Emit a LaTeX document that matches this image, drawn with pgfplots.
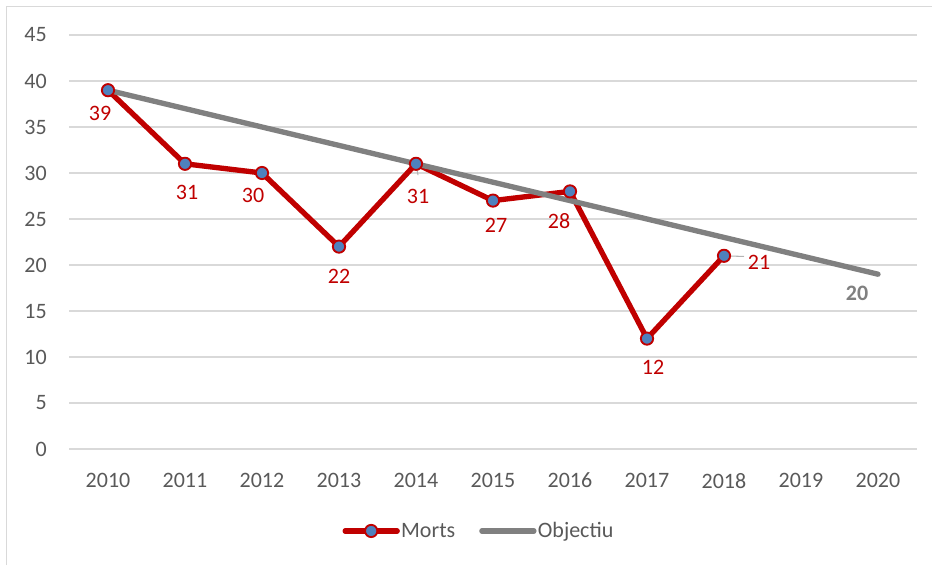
\documentclass[border=0pt]{standalone}
\usepackage{pgfplots}
\pgfplotsset{compat=1.18}
\usepackage{fontspec}
\setmainfont{Carlito}
\definecolor{mred}{HTML}{C00000}
\definecolor{mblue}{HTML}{4F81BD}
\definecolor{mgray}{HTML}{808080}
\definecolor{tgray}{HTML}{595959}
\definecolor{ggray}{HTML}{D9D9D9}
\newcommand{\fs}{\fontsize{16.5}{19}\selectfont}
\begin{document}
\begin{tikzpicture}
\useasboundingbox (0pt,0pt) rectangle (699pt,423.75pt);
\draw[ggray,line width=1pt] (4.9pt,0pt) -- (4.9pt,419pt) -- (699pt,419pt);
\begin{axis}[
  at={(52.125pt,87pt)}, anchor=south west,
  scale only axis, width=635.25pt, height=310.5pt,
  xmin=2009.5, xmax=2020.5, ymin=0, ymax=45,
  xtick={2010,...,2020}, ytick={0,5,...,45},
  xticklabel style={/pgf/number format/1000 sep={}},
  /pgf/number format/assume math mode=true,
  ymajorgrids, grid style={ggray,line width=1pt},
  axis line style={draw=none}, tick style={draw=none},
  tick label style={font=\fs, text=tgray},
  yticklabel style={xshift=-13.5pt},
  xticklabel style={yshift=-14.5pt},
  clip=false,
  legend style={at={(0.483,-0.198)}, anchor=center, draw=none, legend columns=2,
    font=\fs, text=tgray, nodes={inner sep=1pt},
    /tikz/every even column/.append style={column sep=17pt}},
  legend cell align=left,
]
\addplot[mred, line width=4pt, line join=round, mark=*, mark size=4.6pt,
  mark options={fill=mblue, draw=mred, line width=1.4pt},
  legend image code/.code={\draw[mred,line width=4pt,line cap=round] (0pt,0pt) -- (39pt,0pt);
    \draw[mred,fill=mblue,line width=1.4pt] (19.5pt,0pt) circle (4.6pt);}]
  coordinates {(2010,39) (2011,31) (2012,30) (2013,22) (2014,31) (2015,27) (2016,28) (2017,12) (2018,21)};
\addlegendentry{Morts}
\addplot[mgray, line width=4pt, line cap=round,
  legend image code/.code={\draw[mgray,line width=4pt,line cap=round] (0pt,0pt) -- (39pt,0pt);}]
  coordinates {(2010,39) (2020,19)};
\addlegendentry{Objectiu}
% leader lines
\draw[mgray!60, line width=0.8pt] (axis cs:2014,31) -- ++(1.5pt,-8.5pt);
\draw[mgray!60, line width=0.8pt] (axis cs:2018,21) -- ++(15pt,-0.5pt);
% data labels
\begin{scope}[every node/.style={font=\fs, text=mred, inner sep=0pt}]
\node at (axis cs:2010,39) [xshift=-6pt, yshift=-17.25pt] {39};
\node at (axis cs:2011,31) [xshift=1.5pt, yshift=-21.75pt] {31};
\node at (axis cs:2012,30) [xshift=-6.75pt, yshift=-16.5pt] {30};
\node at (axis cs:2013,22) [yshift=-22.5pt] {22};
\node at (axis cs:2014,31) [xshift=1.5pt, yshift=-24.75pt] {31};
\node at (axis cs:2015,27) [xshift=2.25pt, yshift=-18.75pt] {27};
\node at (axis cs:2016,28) [xshift=-8.25pt, yshift=-22.5pt] {28};
\node at (axis cs:2017,12) [xshift=4.5pt, yshift=-21.75pt] {12};
\node at (axis cs:2018,21) [xshift=26.25pt, yshift=-5.25pt] {21};
\node[text=mgray, font=\bfseries\fs] at (axis cs:2020,19) [xshift=-15.75pt, yshift=-14.25pt] {20};
\end{scope}
\end{axis}
\end{tikzpicture}
\end{document}
